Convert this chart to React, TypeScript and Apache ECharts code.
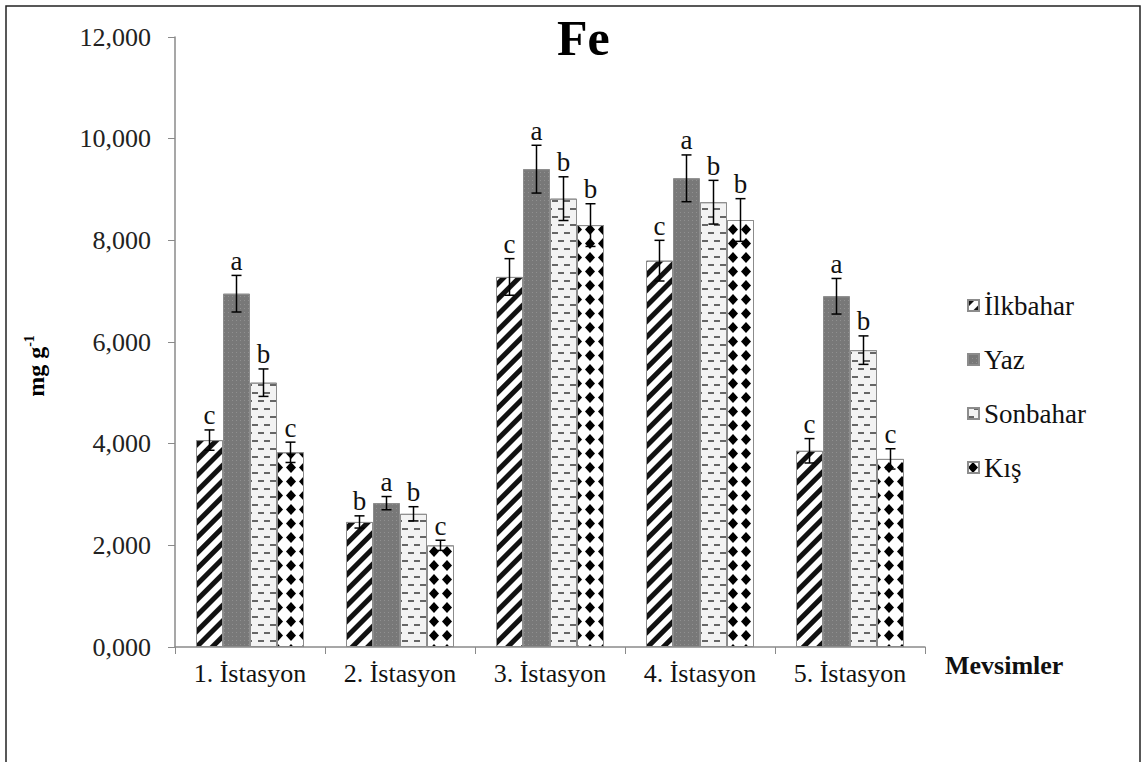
import React, { useEffect, useRef } from 'react';
import * as echarts from 'echarts';

const categories = ['1. İstasyon', '2. İstasyon', '3. İstasyon', '4. İstasyon', '5. İstasyon'];
const seasons = ['İlkbahar', 'Yaz', 'Sonbahar', 'Kış'];

const ilkbahar = [4.07, 2.46, 7.28, 7.6, 3.86];
const yaz = [6.95, 2.83, 9.4, 9.22, 6.9];
const sonbahar = [5.2, 2.62, 8.82, 8.75, 5.84];
const kis = [3.83, 2.0, 8.3, 8.4, 3.7];

const ilkbaharErr = [0.2, 0.12, 0.36, 0.4, 0.24];
const yazErr = [0.36, 0.13, 0.47, 0.46, 0.35];
const sonbaharErr = [0.27, 0.14, 0.43, 0.43, 0.28];
const kisErr = [0.2, 0.1, 0.42, 0.42, 0.2];

const ilkbaharSig = ['c', 'b', 'c', 'c', 'c'];
const yazSig = ['a', 'a', 'a', 'a', 'a'];
const sonbaharSig = ['b', 'b', 'b', 'b', 'b'];
const kisSig = ['c', 'c', 'b', 'b', 'c'];

const yMin = 0;
const yMax = 12;
const yStep = 2;

const FONT = 'Liberation Serif';

export default function App() {
  const ref = useRef<HTMLDivElement>(null);
  useEffect(() => {
    const chart = echarts.init(ref.current as HTMLDivElement, null, { renderer: 'svg' });
    const values = [ilkbahar, yaz, sonbahar, kis];
    const errors = [ilkbaharErr, yazErr, sonbaharErr, kisErr];
    const sigs = [ilkbaharSig, yazSig, sonbaharSig, kisSig];
    const border = { borderColor: '#8c8c8c', borderWidth: 1 };
    const styles: any[] = [
      {
        color: '#ffffff', ...border,
        decal: { symbol: 'rect', symbolSize: 1, color: '#111', dashArrayX: [1, 0], dashArrayY: [5, 5.5], rotation: -Math.PI / 4 },
      },
      {
        color: '#787878', ...border,
        decal: { symbol: 'rect', symbolSize: 1, color: 'rgba(255,255,255,0.18)', dashArrayX: [1, 3], dashArrayY: [1, 3], rotation: 0 },
      },
      {
        color: '#f3f3f3', ...border,
        decal: { symbol: 'rect', symbolSize: 1, color: '#666', dashArrayX: [[6, 6], [0, 6, 6, 0]], dashArrayY: [2, 6], rotation: 0 },
      },
      {
        color: '#ffffff', ...border,
        decal: { symbol: 'diamond', symbolSize: 1, color: '#000', dashArrayX: [10, 3], dashArrayY: [11, 3], rotation: 0 },
      },
    ];

    const barSeries = seasons.map((name, s) => ({
      name,
      type: 'bar',
      data: values[s],
      barGap: '0%',
      barCategoryGap: '28%',
      itemStyle: styles[s],
      z: 2,
    }));

    const errSeries = seasons.map((name, s) => ({
      name: name + ' hata',
      type: 'custom',
      z: 5,
      data: values[s].map((v, i) => [i, v, errors[s][i]]),
      encode: { x: 0, y: 1 },
      renderItem: (params: any, api: any) => {
        const i = api.value(0);
        const v = api.value(1);
        const e = api.value(2);
        const band = api.size([1, 0])[0];
        const bw = (band * 0.72) / 4;
        const x = api.coord([i, v])[0] + (s - 1.5) * bw;
        const yTop = api.coord([i, v + e])[1];
        const yBot = api.coord([i, v - e])[1];
        const cap = 5;
        const ls = { stroke: '#000', lineWidth: 1.5 };
        return {
          type: 'group',
          children: [
            { type: 'line', shape: { x1: x, y1: yTop, x2: x, y2: yBot }, style: ls },
            { type: 'line', shape: { x1: x - cap, y1: yTop, x2: x + cap, y2: yTop }, style: ls },
            { type: 'line', shape: { x1: x - cap, y1: yBot, x2: x + cap, y2: yBot }, style: ls },
            {
              type: 'text',
              x,
              y: yTop - 1,
              style: {
                text: sigs[s][params.dataIndex],
                fontFamily: FONT,
                fontSize: 27,
                fill: '#111',
                align: 'center',
                verticalAlign: 'bottom',
              },
            },
          ],
        };
      },
    }));

    chart.setOption({
      animation: false,
      backgroundColor: '#ffffff',
      textStyle: { fontFamily: FONT },
      title: {
        text: 'Fe',
        left: 552,
        top: 8,
        textStyle: { fontFamily: FONT, fontSize: 50, fontWeight: 'bold', color: '#000' },
      },
      legend: {
        data: seasons,
        orient: 'vertical',
        left: 967,
        top: 292,
        padding: 0,
        itemGap: 27,
        itemWidth: 11,
        itemHeight: 11,
        icon: 'rect',
        textStyle: { fontFamily: 'Times New Roman', fontSize: 27, color: '#111', fontWeight: 'normal', fontStyle: 'normal' },
      },
      grid: { left: 175, right: 216, top: 37, bottom: 115 },
      xAxis: {
        type: 'category',
        data: categories,
        name: 'Mevsimler',
        nameLocation: 'end',
        nameGap: 20,
        nameTextStyle: {
          fontFamily: FONT, fontSize: 26, fontWeight: 'bold', color: '#111',
          align: 'left', verticalAlign: 'top', padding: [5, 0, 0, 0],
        },
        axisLine: { lineStyle: { color: '#8a8a8a', width: 1.5 } },
        axisTick: { show: true, alignWithLabel: false, length: 7, lineStyle: { color: '#8a8a8a' } },
        axisLabel: { fontFamily: FONT, fontSize: 26, color: '#111', margin: 13 },
      },
      yAxis: {
        type: 'value',
        min: yMin,
        max: yMax,
        interval: yStep,
        axisLine: { show: true, lineStyle: { color: '#8a8a8a', width: 1.5 } },
        axisTick: { show: true, length: 7, lineStyle: { color: '#8a8a8a' } },
        splitLine: { show: false },
        axisLabel: {
          fontFamily: FONT,
          fontSize: 26,
          color: '#222',
          margin: 24,
          formatter: (v: number) => v.toFixed(3).replace('.', ','),
        },
      },
      graphic: [
        {
          type: 'rect',
          shape: { x: 6, y: 6, width: 1134, height: 820 },
          style: { fill: 'none', stroke: '#222', lineWidth: 1.5 },
          silent: true,
        },
        {
          type: 'text',
          x: 35,
          y: 366,
          rotation: Math.PI / 2,
          style: {
            text: '{b|mg g}{s|-1}',
            align: 'center',
            verticalAlign: 'middle',
            rich: {
              b: { fontFamily: FONT, fontSize: 24, fontWeight: 'bold', fill: '#000', lineHeight: 26, verticalAlign: 'bottom' },
              s: { fontFamily: FONT, fontSize: 14, fontWeight: 'bold', fill: '#000', lineHeight: 15, verticalAlign: 'top' },
            },
          },
        },
      ],
      series: [...barSeries, ...errSeries],
    } as any);
    return () => chart.dispose();
  }, []);
  return <div ref={ref} style={{ position: 'absolute', left: 0, top: 0, width: 1141, height: 762 }} />;
}
